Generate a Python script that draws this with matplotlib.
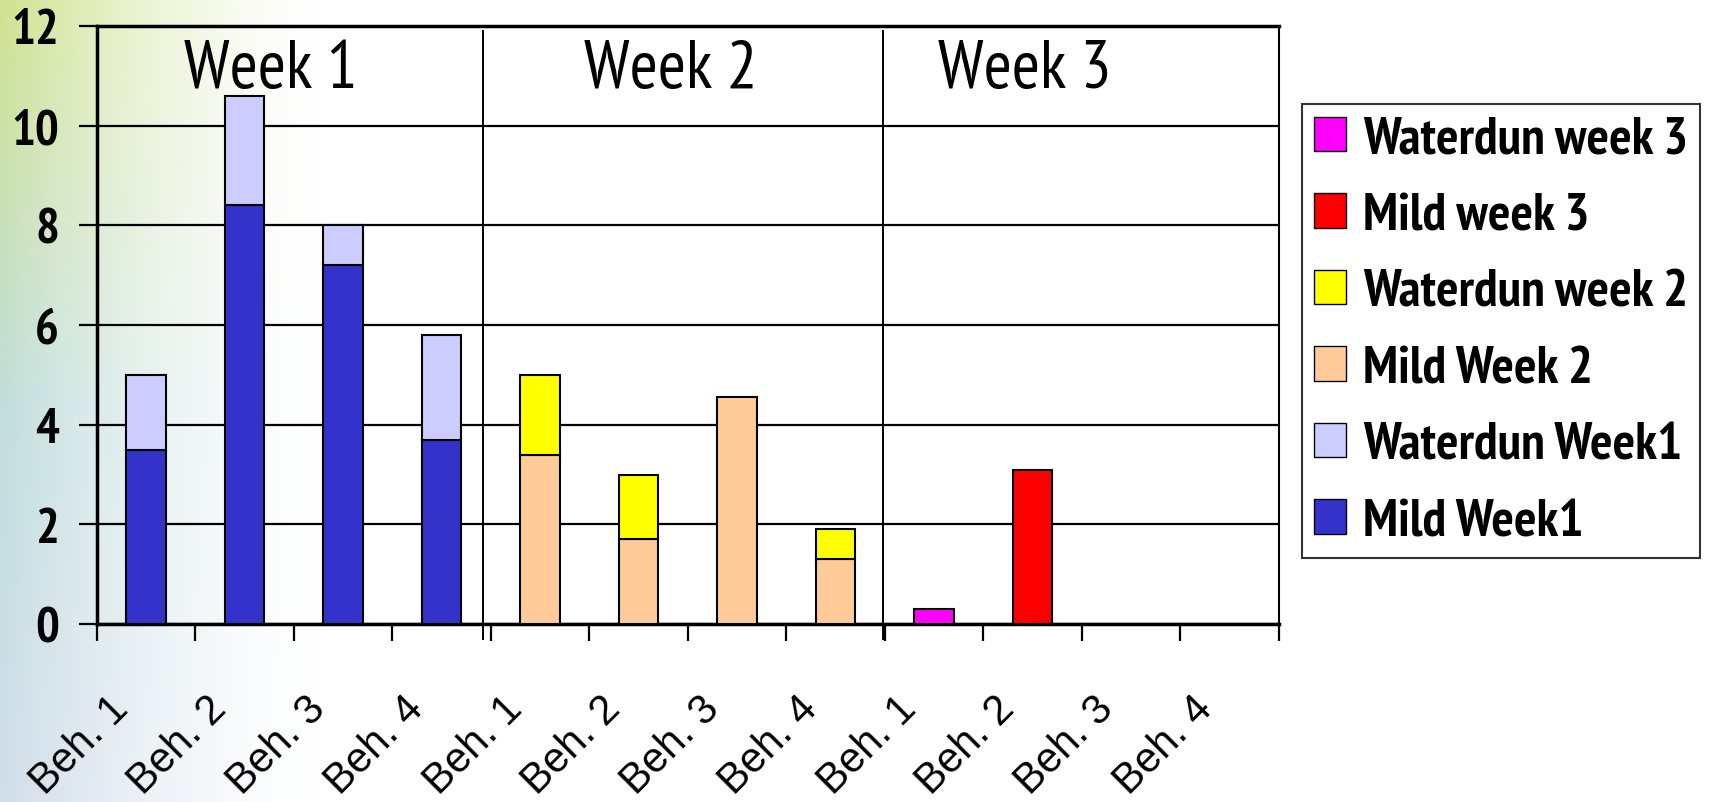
import numpy as np
import matplotlib
matplotlib.use("Agg")
import matplotlib.pyplot as plt
from matplotlib.patches import Patch
from matplotlib.transforms import ScaledTranslation

# data
categories = ["Beh. 1", "Beh. 2", "Beh. 3", "Beh. 4"] * 3
weeks = ["Week 1", "Week 2", "Week 3"]

mild_w1 = [3.5, 8.4, 7.2, 3.7, 0, 0, 0, 0, 0, 0, 0, 0]
water_w1 = [1.5, 2.2, 0.8, 2.1, 0, 0, 0, 0, 0, 0, 0, 0]
mild_w2 = [0, 0, 0, 0, 3.4, 1.7, 4.55, 1.3, 0, 0, 0, 0]
water_w2 = [0, 0, 0, 0, 1.6, 1.3, 0, 0.6, 0, 0, 0, 0]
mild_w3 = [0, 0, 0, 0, 0, 0, 0, 0, 0, 3.1, 0, 0]
water_w3 = [0, 0, 0, 0, 0, 0, 0, 0, 0.3, 0, 0, 0]

NARROW = ["PT Sans Narrow", "Roboto Condensed", "DejaVu Sans"]
ARIAL = ["Liberation Sans", "DejaVu Sans"]

W, H = 1721, 803
fig = plt.figure(figsize=(W / 100, H / 100), dpi=100)

# background wash on the left, like the slide background
bg = fig.add_axes([0, 0, 1, 1], zorder=-10)
bg.set_axis_off()
yy = np.linspace(0, 1, 200)[:, None, None]
xx = np.linspace(0, 1, 400)[None, :]
top = np.array([0.82, 0.89, 0.56])
mid = np.array([0.76, 0.87, 0.86])
bot = np.array([0.82, 0.87, 0.92])
col = np.where(yy < 0.5, top + (mid - top) * (yy / 0.5),
               mid + (bot - mid) * ((yy - 0.5) / 0.5))
col = np.broadcast_to(col, (200, 400, 3))
fade = np.clip(1 - xx * W / 320, 0, 1) ** 1.5
img = np.ones((200, 400, 3)) * (1 - fade[..., None]) + col * fade[..., None]
bg.imshow(img, extent=[0, 1, 0, 1], aspect="auto", origin="upper")
bg.set_xlim(0, 1)
bg.set_ylim(0, 1)

ax = fig.add_axes([96.6 / W, 1 - 625 / H, (1279 - 96.6) / W, (625 - 27) / H])
ax.set_facecolor("none")

x = np.arange(len(categories))
bw = 0.4
ec = dict(edgecolor="black", linewidth=1.5, zorder=3)


def stack(bottom_vals, top_vals, c_bottom, c_top):
    b = np.array(bottom_vals, dtype=float)
    t = np.array(top_vals, dtype=float)
    m = b > 0
    ax.bar(x[m], b[m], bw, color=c_bottom, **ec)
    m2 = t > 0
    ax.bar(x[m2], t[m2], bw, bottom=b[m2], color=c_top, **ec)


stack(mild_w1, water_w1, "#3333CC", "#CCCCFF")
stack(mild_w2, water_w2, "#FFCC99", "#FFFF00")
stack(mild_w3, water_w3, "#FF0000", "#FF00FF")

ax.set_xlim(-0.5, 11.5)
ax.set_ylim(0, 12)
ax.set_yticks(np.arange(0, 13, 2))
ax.yaxis.grid(True, color="black", linewidth=1.6, zorder=1)
ax.set_axisbelow(True)
for s in ["left", "bottom", "top"]:
    ax.spines[s].set_linewidth(2.5)
ax.spines["right"].set_linewidth(1.5)

ax.set_xticks(np.arange(-0.5, 12, 1))
ax.set_xticklabels([])
ax.set_xticks(x, minor=True)
ax.set_xticklabels(categories, minor=True, rotation=45, ha="right",
                   rotation_mode="anchor", fontsize=30, family=ARIAL)
ax.tick_params(axis="x", which="major", length=12, width=1.6, direction="out")
ax.tick_params(axis="x", which="minor", length=0, pad=46)
shift = ScaledTranslation(-38 / 100, 0, fig.dpi_scale_trans)
for lab in ax.get_xticklabels(minor=True):
    lab.set_transform(lab.get_transform() + shift)

ax.tick_params(axis="y", length=13, width=1.6, pad=14)
for lab in ax.get_yticklabels():
    lab.set_family(NARROW)
    lab.set_fontweight("bold")
    lab.set_fontsize(36)

# week separators
for sx in [3.42, 7.48]:
    ax.plot([sx, sx], [11.9, -0.3], color="black", linewidth=1.4,
            clip_on=False, zorder=4)

for wx, wname in zip([1.27, 5.33, 8.92], weeks):
    ax.text(wx, 10.78, wname, ha="center", va="baseline", fontsize=49,
            family=NARROW)

handles = [
    Patch(facecolor="#FF00FF", edgecolor="black", label="Waterdun week 3"),
    Patch(facecolor="#FF0000", edgecolor="black", label="Mild week 3"),
    Patch(facecolor="#FFFF00", edgecolor="black", label="Waterdun week 2"),
    Patch(facecolor="#FFCC99", edgecolor="black", label="Mild Week 2"),
    Patch(facecolor="#CCCCFF", edgecolor="black", label="Waterdun Week1"),
    Patch(facecolor="#3333CC", edgecolor="black", label="Mild Week1"),
]
leg = fig.legend(handles=handles, loc="upper left",
                 bbox_to_anchor=(1302 / W, 1 - 105 / H),
                 prop=dict(family=NARROW, weight="bold", size=38),
                 frameon=True, fancybox=False, edgecolor="black",
                 handlelength=0.62, handleheight=0.62, handletextpad=0.32,
                 labelspacing=0.54, borderpad=0.22, borderaxespad=0)
leg.get_frame().set_linewidth(1.5)

fig.savefig("out.png", dpi=100)
